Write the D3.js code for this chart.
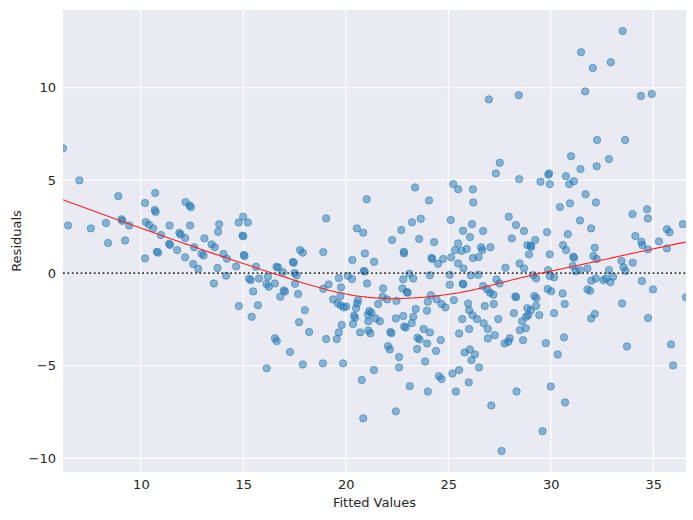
<!DOCTYPE html>
<html><head><meta charset="utf-8">
<script src="https://cdn.jsdelivr.net/npm/d3@7"></script>
<style>
html,body{margin:0;padding:0;background:#fff;}
svg{display:block;font-family:"DejaVu Sans",sans-serif;}
</style></head>
<body><svg id="c" width="693" height="520"></svg>
<script>
const fitted = [6.20,6.45,7.00,7.56,8.30,8.40,8.90,9.05,9.10,9.43,9.23,10.20,10.70,10.68,10.72,10.24,10.40,10.60,10.20,10.98,10.78,10.84,11.40,11.38,11.42,11.77,11.88,11.94,12.18,12.38,12.44,12.40,12.16,12.16,12.60,12.55,12.80,12.96,13.06,13.10,13.45,13.60,13.77,13.82,13.74,13.56,14.77,14.99,15.22,14.96,15.00,15.02,15.06,14.03,14.20,14.65,14.16,15.28,15.37,15.62,15.77,15.48,15.71,14.78,15.41,16.20,16.13,16.24,16.54,16.62,16.70,16.80,16.97,17.03,16.93,17.42,17.46,17.50,17.60,17.52,17.67,17.77,17.90,18.00,17.72,18.90,19.04,19.16,18.90,19.66,19.77,19.74,19.38,19.60,19.75,19.90,20.02,20.10,20.30,20.32,20.54,20.85,21.02,20.93,20.88,20.92,21.04,20.60,20.55,20.50,20.40,21.15,21.08,21.25,
16.54,16.63,16.14,17.28,18.21,17.90,18.88,19.04,19.56,19.66,19.80,19.87,20.35,20.45,20.70,21.10,21.10,21.20,21.37,20.78,20.85,
21.66,21.46,22.44,23.22,22.85,22.92,22.17,22.23,22.06,22.15,22.60,22.60,23.12,22.44,23.80,24.10,23.50,23.60,23.97,23.48,24.63,24.40,23.87,24.54,24.67,24.00,25.20,25.53,25.37,25.53,26.02,25.68,25.80,26.05,26.30,26.13,26.50,26.00,26.18,26.40,26.73,26.93,26.93,27.27,27.44,27.10,27.60,27.75,27.93,28.00,28.33,28.49,28.65,28.78,28.60,28.80,
29.76,30.34,30.65,30.00,30.70,29.60,31.97,32.15,33.72,34.75,35.87,35.97,
33.51,31.48,32.93,32.05,31.68,34.40,34.93,32.26,33.63,30.99,32.84,32.24,26.98,28.44,27.51,
21.38,23.38,24.06,25.24,25.48,26.20,26.22,27.32,28.46,22.71,23.23,23.66,22.26,23.58,24.31,22.83,22.84,24.18,24.22,24.75,24.50,25.12,25.72,26.06,26.16,26.70,25.48,25.33,25.65,25.90,26.60,26.66,27.06,26.20,26.48,25.14,25.48,25.74,25.07,26.10,26.47,24.10,23.10,23.29,22.80,21.82,21.80,22.76,22.98,23.02,22.02,22.47,21.58,24.15,24.43,24.00,23.96,23.41,24.67,24.86,25.27,25.70,25.74,25.07,25.97,26.02,26.78,27.22,26.70,26.90,27.04,27.20,27.35,27.50,27.79,28.27,28.31,27.95,28.30,28.70,28.10,28.48,28.70,28.86,28.94,28.20,22.80,23.29,
29.88,29.92,29.50,29.95,30.74,30.90,31.13,31.45,30.45,30.94,31.70,32.20,31.43,31.97,33.99,34.70,34.74,36.45,29.24,29.01,29.05,29.82,30.83,30.60,30.75,29.95,31.10,31.14,32.15,32.08,32.24,31.07,31.22,31.41,31.79,29.87,29.95,30.16,29.14,29.29,32.84,32.70,33.04,32.91,32.20,31.98,32.57,33.45,33.55,33.65,34.00,34.42,34.47,34.74,34.13,35.28,35.67,35.80,35.67,34.45,34.99,36.60,33.48,31.79,31.92,30.58,30.68,29.85,30.02,29.20,29.30,29.28,28.86,29.03,28.90,29.44,30.16];

const residuals = [6.73,2.57,5.00,2.41,2.70,1.62,4.15,2.90,2.82,2.57,1.76,3.78,4.32,3.40,3.30,2.75,2.60,2.41,0.79,2.05,1.15,1.10,2.57,1.58,1.52,1.24,2.16,2.08,3.83,3.65,3.55,2.57,1.89,0.85,1.39,0.49,0.23,1.05,0.95,1.87,1.55,1.39,2.23,2.63,0.27,-0.56,2.73,3.04,2.73,2.02,1.98,0.98,0.92,1.03,0.77,0.36,-0.14,-0.31,-0.38,0.34,-0.29,-0.99,-1.74,-1.78,-2.36,-0.20,-0.59,-0.74,-0.56,0.34,0.30,-1.28,-0.94,-1.00,0.05,0.60,0.56,0.00,-0.12,-0.58,-1.13,1.24,1.10,-2.00,-2.65,1.13,2.95,-0.61,-0.85,-0.27,-0.77,-1.24,-1.42,-1.62,-1.75,-1.85,-1.80,-0.15,-0.32,0.70,2.41,2.18,3.98,1.06,0.12,0.08,-0.56,-1.46,-1.64,-1.90,-2.30,-2.05,-2.25,-2.15,
-3.52,-3.67,-5.14,-4.26,-3.18,-4.93,-4.87,-3.56,-3.56,-3.20,-2.80,-4.87,-2.75,-2.41,-3.20,-2.60,-3.10,-3.25,-5.23,-5.77,-7.84,
-2.60,-2.45,-2.45,-2.70,-2.88,-2.94,-3.18,-3.24,-3.94,-4.12,-4.53,-5.09,-6.10,-7.46,-3.02,-3.20,-3.49,-3.58,-3.80,-4.10,-3.62,-4.20,-4.77,-5.56,-5.72,-6.39,-5.42,-5.23,-6.39,-3.26,-3.02,-2.48,-4.28,-4.12,-4.39,-4.70,-5.09,-5.90,-2.27,-2.48,-2.71,-3.02,-3.53,-3.35,-2.48,-7.14,-9.60,-3.80,-3.70,-3.52,-6.39,-3.08,-3.62,-2.98,-2.60,-2.36,
-3.78,-4.39,-3.47,-6.12,-6.98,-8.53,-2.45,-2.20,-3.96,-2.42,-3.85,-4.98,
13.06,11.91,11.37,11.06,9.80,9.55,9.66,7.18,7.18,6.30,6.15,5.76,9.37,9.60,5.95,
0.61,4.62,3.92,4.80,4.52,4.52,3.81,5.38,5.07,2.32,2.74,2.93,1.78,1.84,1.67,1.15,1.06,0.82,0.76,0.76,0.50,2.86,2.28,1.94,2.64,2.27,1.60,1.24,1.20,1.30,1.39,1.24,1.39,0.81,0.86,0.85,0.52,0.25,-0.09,-0.12,-0.09,-0.12,-0.04,-0.29,-0.34,-0.83,-1.28,-0.83,-1.02,-1.06,-1.42,-1.50,-1.67,-1.19,-1.42,-1.55,-2.03,-1.94,-1.67,-1.85,-1.46,-0.57,-0.61,-0.63,-1.64,-2.00,-1.78,-1.67,-0.70,-0.88,-1.06,-1.17,-0.34,-0.56,0.29,-1.26,-1.30,3.04,2.59,2.27,1.87,0.52,0.25,1.51,1.01,-2.17,-2.32,-2.36,
5.30,5.38,4.93,4.80,5.23,4.80,4.95,5.61,3.56,3.76,4.25,3.81,2.84,2.41,3.18,3.44,2.95,2.64,1.78,1.48,1.42,2.21,2.10,1.51,1.24,1.01,0.88,0.82,1.37,0.92,0.76,0.38,0.10,0.16,0.25,0.16,-0.16,-0.23,-0.11,-0.29,0.16,-0.29,-0.20,-0.49,-0.29,-0.41,-0.38,0.66,0.31,0.12,0.56,1.69,1.51,1.28,2.00,1.71,2.36,2.20,1.33,-0.43,-0.88,-1.31,-1.64,-0.88,-0.96,-1.10,-1.67,-0.86,-0.98,-1.24,-1.35,-1.78,-1.90,-2.00,-2.27,-2.27,-2.17];

const xTickValues = [10, 15, 20, 25, 30, 35];
const yTickValues = [-10, -5, 0, 5, 10];
const xLabel = "Fitted Values";
const yLabel = "Residuals";

const W = 693, H = 520;
const margin = {left: 63, top: 10, right: 7, bottom: 48};
const pw = W - margin.left - margin.right, ph = H - margin.top - margin.bottom;

const pts = fitted.map((x, i) => ({x, y: residuals[i]}));

const x = d3.scaleLinear().domain(d3.extent(fitted)).range([0, pw]);
const ye = d3.extent(residuals), pad = (ye[1] - ye[0]) * 0.05;
const y = d3.scaleLinear().domain([ye[0] - pad, ye[1] + pad]).range([ph, 0]);

// LOWESS (frac 2/3, 3 robustifying iterations)
function lowess(xs, ys, frac, iters) {
  const n = xs.length;
  const idx = d3.range(n).sort((a, b) => xs[a] - xs[b]);
  const X = idx.map(i => xs[i]), Y = idx.map(i => ys[i]);
  const k = Math.floor(frac * n + 1e-10);
  let rw = new Array(n).fill(1);
  let fit = new Array(n).fill(0);
  for (let it = 0; it <= iters; it++) {
    for (let i = 0; i < n; i++) {
      const d = X.map(v => Math.abs(v - X[i]));
      const sd = d.slice().sort((a, b) => a - b);
      const h = Math.max(sd[k - 1], 1e-12);
      let sw = 0, sx = 0, sy = 0, sxx = 0, sxy = 0;
      for (let j = 0; j < n; j++) {
        const u = d[j] / h;
        if (u >= 1) continue;
        let w = u <= 0.001 ? 1 : Math.pow(1 - u * u * u, 3);
        w *= rw[j];
        sw += w; sx += w * X[j]; sy += w * Y[j];
      }
      const mx = sx / sw, my = sy / sw;
      for (let j = 0; j < n; j++) {
        const u = d[j] / h;
        if (u >= 1) continue;
        let w = u <= 0.001 ? 1 : Math.pow(1 - u * u * u, 3);
        w *= rw[j];
        sxx += w * (X[j] - mx) * (X[j] - mx);
        sxy += w * (X[j] - mx) * (Y[j] - my);
      }
      const b = sxx > 1e-12 ? sxy / sxx : 0;
      fit[i] = my + b * (X[i] - mx);
    }
    if (it === iters) break;
    const res = Y.map((v, i) => v - fit[i]);
    const s = d3.median(res.map(Math.abs));
    rw = res.map(r => {
      const u = r / (6 * s);
      return Math.abs(u) < 1 ? Math.pow(1 - u * u, 2) : 0;
    });
  }
  return X.map((v, i) => [v, fit[i]]);
}

const svg = d3.select("#c");
svg.append("rect").attr("width", W).attr("height", H).attr("fill", "#ffffff");
const g = svg.append("g").attr("transform", `translate(${margin.left},${margin.top})`);
g.append("rect").attr("width", pw).attr("height", ph).attr("fill", "#EAEAF2");

// grid
g.append("g").selectAll("line").data(xTickValues).join("line")
  .attr("x1", d => x(d)).attr("x2", d => x(d)).attr("y1", 0).attr("y2", ph)
  .attr("stroke", "#fff").attr("stroke-width", 1.1);
g.append("g").selectAll("line").data(yTickValues).join("line")
  .attr("y1", d => y(d)).attr("y2", d => y(d)).attr("x1", 0).attr("x2", pw)
  .attr("stroke", "#fff").attr("stroke-width", 1.1);

const clip = svg.append("clipPath").attr("id", "clip").append("rect").attr("width", pw).attr("height", ph);
const inner = g.append("g").attr("clip-path", "url(#clip)");

inner.append("g").selectAll("circle").data(pts).join("circle")
  .attr("cx", d => x(d.x)).attr("cy", d => y(d.y)).attr("r", 3.7)
  .attr("fill", "#1f77b4").attr("fill-opacity", 0.5)
  .attr("stroke", "#1f77b4").attr("stroke-opacity", 0.5).attr("stroke-width", 1);

inner.append("line").attr("x1", 0).attr("x2", pw).attr("y1", y(0)).attr("y2", y(0))
  .attr("stroke", "#333333").attr("stroke-width", 1.8).attr("stroke-dasharray", "1.8,2.6");

const lw = lowess(fitted, residuals, 2 / 3, 3);
inner.append("path").datum(lw)
  .attr("d", d3.line().x(d => x(d[0])).y(d => y(d[1])))
  .attr("fill", "none").attr("stroke", "#ff2020").attr("stroke-width", 1.1);

// axes
const xAxis = d3.axisBottom(x).tickValues(xTickValues).tickSize(0).tickPadding(8).tickFormat(d3.format("d"));
const yAxis = d3.axisLeft(y).tickValues(yTickValues).tickSize(0).tickPadding(7).tickFormat(d => d < 0 ? "\u2212" + Math.abs(d) : String(d));
const gx = g.append("g").attr("transform", `translate(0,${ph})`).call(xAxis);
const gy = g.append("g").call(yAxis);
[gx, gy].forEach(a => {
  a.select(".domain").remove();
  a.selectAll("text").attr("fill", "#262626").style("font-size", "13px").style("font-family", "DejaVu Sans");
});

svg.append("text").attr("x", margin.left + pw / 2).attr("y", 507)
  .attr("text-anchor", "middle").attr("fill", "#262626").style("font-size", "13px").text(xLabel);
svg.append("text").attr("transform", `translate(21,${margin.top + ph / 2}) rotate(-90)`)
  .attr("text-anchor", "middle").attr("fill", "#262626").style("font-size", "13px").text(yLabel);
</script></body></html>
